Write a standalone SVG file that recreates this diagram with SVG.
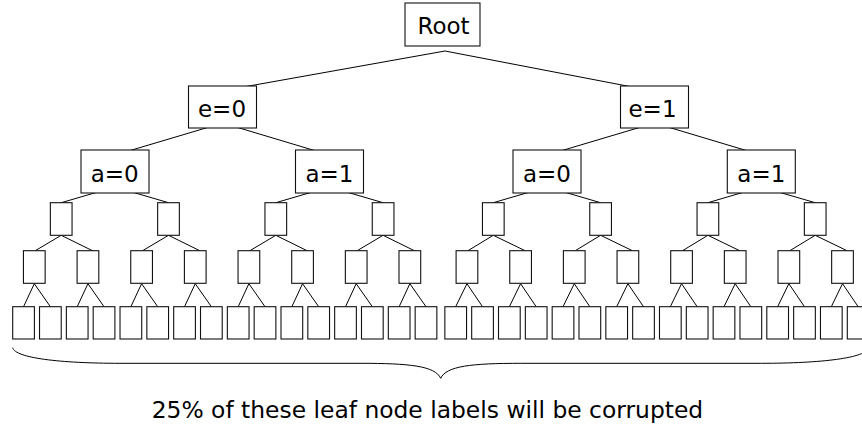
<svg xmlns="http://www.w3.org/2000/svg" width="862" height="425" viewBox="0 0 862 425">
<style>
.n{fill:#fff;stroke:#111;stroke-width:1.1}
.e{stroke:#000;stroke-width:1;fill:none}
.t{font-family:"DejaVu Sans",Verdana,sans-serif;font-size:23px;fill:#000;text-anchor:middle}
.b{font-family:"DejaVu Sans",Verdana,sans-serif;font-size:23.4px;fill:#000}
</style>
<rect width="862" height="425" fill="#fff"/>
<g id="connectors" class="e">
<path d="M445,51L221,91M445,51L653,91"/>
<path d="M222.7,123L115,155M222.7,123L329.5,155M654.5,123L547,155M654.5,123L761.3,155"/>
<path d="M115,187L61.2,202.7M115,187L168.5,202.7M329.5,187L275.8,202.7M329.5,187L383.1,202.7M547,187L493.3,202.7M547,187L600.6,202.7M761.3,187L707.9,202.7M761.3,187L815.2,202.7"/>
<path d="M61.2,235.3L35.3,250.7M61.2,235.3L92.45,250.7M168.5,235.3L142.6,250.7M168.5,235.3L199.75,250.7M275.8,235.3L249.9,250.7M275.8,235.3L307.05,250.7M383.1,235.3L357.2,250.7M383.1,235.3L414.35,250.7M493.3,235.3L467.95,250.7M493.3,235.3L525.1,250.7M600.6,235.3L575.25,250.7M600.6,235.3L632.4,250.7M707.9,235.3L682.55,250.7M707.9,235.3L739.7,250.7M815.2,235.3L789.85,250.7M815.2,235.3L847,250.7"/>
<path d="M34.3,283.7L23.55,306.7M34.3,283.7L50.38,306.7M87.95,283.7L77.21,306.7M87.95,283.7L104.04,306.7M141.6,283.7L130.87,306.7M141.6,283.7L157.7,306.7M195.25,283.7L184.53,306.7M195.25,283.7L211.36,306.7M248.9,283.7L238.19,306.7M248.9,283.7L265.02,306.7M302.55,283.7L291.85,306.7M302.55,283.7L318.68,306.7M356.2,283.7L345.51,306.7M356.2,283.7L372.34,306.7M409.85,283.7L399.17,306.7M409.85,283.7L426,306.7"/>
<path d="M466.95,283.7L455.7,306.7M466.95,283.7L482.53,306.7M520.6,283.7L509.36,306.7M520.6,283.7L536.19,306.7M574.25,283.7L563.02,306.7M574.25,283.7L589.85,306.7M627.9,283.7L616.68,306.7M627.9,283.7L643.51,306.7M681.55,283.7L670.34,306.7M681.55,283.7L697.17,306.7M735.2,283.7L724,306.7M735.2,283.7L750.83,306.7M788.85,283.7L777.66,306.7M788.85,283.7L804.49,306.7M842.5,283.7L831.32,306.7M842.5,283.7L858.15,306.7"/>
</g>
<g id="root"><rect class="n" x="405" y="3" width="75" height="43"/><text class="t" x="443.5" y="34.3">Root</text></g>
<g id="e0"><rect class="n" x="188.5" y="86" width="68" height="42"/><text class="t" x="222" y="117.3">e=0</text></g>
<g id="e1"><rect class="n" x="620.5" y="86" width="68" height="42"/><text class="t" x="652.5" y="117.3">e=1</text></g>
<g id="e0a0"><rect class="n" x="81" y="150" width="68" height="43"/><text class="t" x="114.7" y="181.7">a=0</text></g>
<g id="e0a1"><rect class="n" x="295.5" y="150" width="68" height="43"/><text class="t" x="329.5" y="181.7">a=1</text></g>
<g id="e1a0"><rect class="n" x="513" y="150" width="68" height="43"/><text class="t" x="547" y="181.7">a=0</text></g>
<g id="e1a1"><rect class="n" x="727.3" y="150" width="68" height="43"/><text class="t" x="761.3" y="181.7">a=1</text></g>
<g id="l3-0"><rect class="n" x="50.35" y="202.7" width="21.7" height="32.6"/></g>
<g id="l3-1"><rect class="n" x="157.65" y="202.7" width="21.7" height="32.6"/></g>
<g id="l3-2"><rect class="n" x="264.95" y="202.7" width="21.7" height="32.6"/></g>
<g id="l3-3"><rect class="n" x="372.25" y="202.7" width="21.7" height="32.6"/></g>
<g id="l3-4"><rect class="n" x="482.45" y="202.7" width="21.7" height="32.6"/></g>
<g id="l3-5"><rect class="n" x="589.75" y="202.7" width="21.7" height="32.6"/></g>
<g id="l3-6"><rect class="n" x="697.05" y="202.7" width="21.7" height="32.6"/></g>
<g id="l3-7"><rect class="n" x="804.35" y="202.7" width="21.7" height="32.6"/></g>
<g id="l4-0"><rect class="n" x="23.45" y="250.7" width="21.7" height="32.6"/></g>
<g id="l4-1"><rect class="n" x="77.1" y="250.7" width="21.7" height="32.6"/></g>
<g id="l4-2"><rect class="n" x="130.75" y="250.7" width="21.7" height="32.6"/></g>
<g id="l4-3"><rect class="n" x="184.4" y="250.7" width="21.7" height="32.6"/></g>
<g id="l4-4"><rect class="n" x="238.05" y="250.7" width="21.7" height="32.6"/></g>
<g id="l4-5"><rect class="n" x="291.7" y="250.7" width="21.7" height="32.6"/></g>
<g id="l4-6"><rect class="n" x="345.35" y="250.7" width="21.7" height="32.6"/></g>
<g id="l4-7"><rect class="n" x="399" y="250.7" width="21.7" height="32.6"/></g>
<g id="l4-8"><rect class="n" x="456.1" y="250.7" width="21.7" height="32.6"/></g>
<g id="l4-9"><rect class="n" x="509.75" y="250.7" width="21.7" height="32.6"/></g>
<g id="l4-10"><rect class="n" x="563.4" y="250.7" width="21.7" height="32.6"/></g>
<g id="l4-11"><rect class="n" x="617.05" y="250.7" width="21.7" height="32.6"/></g>
<g id="l4-12"><rect class="n" x="670.7" y="250.7" width="21.7" height="32.6"/></g>
<g id="l4-13"><rect class="n" x="724.35" y="250.7" width="21.7" height="32.6"/></g>
<g id="l4-14"><rect class="n" x="778" y="250.7" width="21.7" height="32.6"/></g>
<g id="l4-15"><rect class="n" x="831.65" y="250.7" width="21.7" height="32.6"/></g>
<g id="leaf-0"><rect class="n" x="12.7" y="306.7" width="21.7" height="32.3"/></g>
<g id="leaf-1"><rect class="n" x="39.53" y="306.7" width="21.7" height="32.3"/></g>
<g id="leaf-2"><rect class="n" x="66.36" y="306.7" width="21.7" height="32.3"/></g>
<g id="leaf-3"><rect class="n" x="93.19" y="306.7" width="21.7" height="32.3"/></g>
<g id="leaf-4"><rect class="n" x="120.02" y="306.7" width="21.7" height="32.3"/></g>
<g id="leaf-5"><rect class="n" x="146.85" y="306.7" width="21.7" height="32.3"/></g>
<g id="leaf-6"><rect class="n" x="173.68" y="306.7" width="21.7" height="32.3"/></g>
<g id="leaf-7"><rect class="n" x="200.51" y="306.7" width="21.7" height="32.3"/></g>
<g id="leaf-8"><rect class="n" x="227.34" y="306.7" width="21.7" height="32.3"/></g>
<g id="leaf-9"><rect class="n" x="254.17" y="306.7" width="21.7" height="32.3"/></g>
<g id="leaf-10"><rect class="n" x="281" y="306.7" width="21.7" height="32.3"/></g>
<g id="leaf-11"><rect class="n" x="307.83" y="306.7" width="21.7" height="32.3"/></g>
<g id="leaf-12"><rect class="n" x="334.66" y="306.7" width="21.7" height="32.3"/></g>
<g id="leaf-13"><rect class="n" x="361.49" y="306.7" width="21.7" height="32.3"/></g>
<g id="leaf-14"><rect class="n" x="388.32" y="306.7" width="21.7" height="32.3"/></g>
<g id="leaf-15"><rect class="n" x="415.15" y="306.7" width="21.7" height="32.3"/></g>
<g id="leaf-16"><rect class="n" x="444.85" y="306.7" width="21.7" height="32.3"/></g>
<g id="leaf-17"><rect class="n" x="471.68" y="306.7" width="21.7" height="32.3"/></g>
<g id="leaf-18"><rect class="n" x="498.51" y="306.7" width="21.7" height="32.3"/></g>
<g id="leaf-19"><rect class="n" x="525.34" y="306.7" width="21.7" height="32.3"/></g>
<g id="leaf-20"><rect class="n" x="552.17" y="306.7" width="21.7" height="32.3"/></g>
<g id="leaf-21"><rect class="n" x="579" y="306.7" width="21.7" height="32.3"/></g>
<g id="leaf-22"><rect class="n" x="605.83" y="306.7" width="21.7" height="32.3"/></g>
<g id="leaf-23"><rect class="n" x="632.66" y="306.7" width="21.7" height="32.3"/></g>
<g id="leaf-24"><rect class="n" x="659.49" y="306.7" width="21.7" height="32.3"/></g>
<g id="leaf-25"><rect class="n" x="686.32" y="306.7" width="21.7" height="32.3"/></g>
<g id="leaf-26"><rect class="n" x="713.15" y="306.7" width="21.7" height="32.3"/></g>
<g id="leaf-27"><rect class="n" x="739.98" y="306.7" width="21.7" height="32.3"/></g>
<g id="leaf-28"><rect class="n" x="766.81" y="306.7" width="21.7" height="32.3"/></g>
<g id="leaf-29"><rect class="n" x="793.64" y="306.7" width="21.7" height="32.3"/></g>
<g id="leaf-30"><rect class="n" x="820.47" y="306.7" width="21.7" height="32.3"/></g>
<g id="leaf-31"><rect class="n" x="847.3" y="306.7" width="21.7" height="32.3"/></g>
<g id="brace"><path class="e" d="M12.7,347.7C15,358 60,363.3 120,363.3L360,363.3C410,363.3 435,366 440.7,378.3C446.4,366 471.4,363.3 521.4,363.3L761.4,363.3C821.4,363.3 866.4,358 868.7,347.7"/></g>
<g id="caption"><text class="b" x="151.7" y="418">25% of these leaf node labels will be corrupted</text></g>
</svg>
